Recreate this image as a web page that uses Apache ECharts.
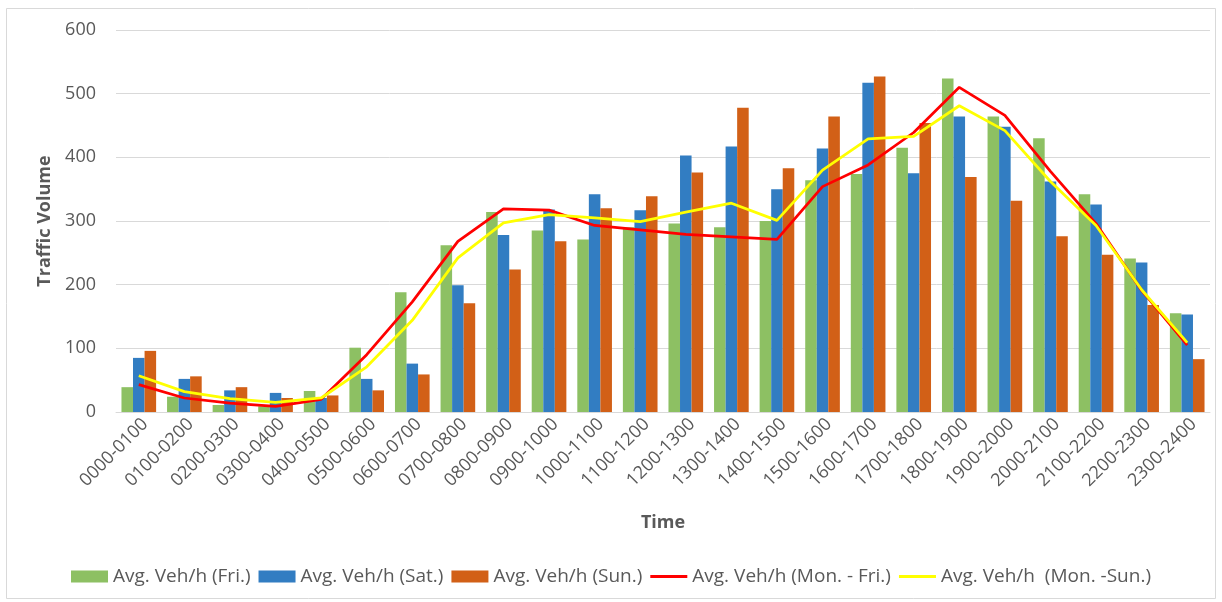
<!DOCTYPE html>
<html>
<head>
<meta charset="utf-8">
<title>Traffic Volume by Hour</title>
<script src="https://cdn.jsdelivr.net/npm/echarts@6/dist/echarts.min.js"></script>
<style>
  html, body { margin: 0; padding: 0; background: #ffffff; }
  #chart { width: 1222px; height: 602px; }
</style>
</head>
<body>
<div id="chart"></div>
<script>
// Hourly time bands
const hours = [
  '0000-0100', '0100-0200', '0200-0300', '0300-0400', '0400-0500', '0500-0600',
  '0600-0700', '0700-0800', '0800-0900', '0900-1000', '1000-1100', '1100-1200',
  '1200-1300', '1300-1400', '1400-1500', '1500-1600', '1600-1700', '1700-1800',
  '1800-1900', '1900-2000', '2000-2100', '2100-2200', '2200-2300', '2300-2400'
];

// Average vehicles per hour, per day type
const friday = [39, 24, 11, 9, 33, 101, 188, 262, 314, 285, 271, 290, 296, 290, 300, 364, 374, 415, 524, 464, 430, 342, 241, 155];
const saturday = [85, 52, 34, 30, 22, 52, 76, 199, 278, 318, 342, 317, 403, 417, 350, 414, 517, 375, 464, 448, 362, 326, 235, 153];
const sunday = [96, 56, 39, 22, 26, 34, 59, 171, 224, 268, 320, 339, 376, 478, 383, 464, 527, 454, 369, 332, 276, 247, 168, 83];
const monToFri = [43, 22, 14, 9, 20, 90, 173, 268, 319, 317, 293, 286, 279, 275, 271, 354, 388, 439, 510, 466, 378, 296, 191, 105];
const monToSun = [57, 32, 21, 15, 22, 71, 144, 242, 297, 310, 305, 299, 314, 328, 301, 380, 429, 433, 481, 442, 362, 293, 192, 109];

// Value axis ticks
const yMin = 0, yMax = 600, yStep = 100;

const seriesNames = [
  'Avg. Veh/h (Fri.)',
  'Avg. Veh/h (Sat.)',
  'Avg. Veh/h (Sun.)',
  'Avg. Veh/h (Mon. - Fri.)',
  'Avg. Veh/h  (Mon. -Sun.)'
];

const FONT = "'Open Sans', 'Noto Sans', sans-serif";
const TEXT = '#595959';
// thin bar used as the legend marker of the line series
const LINE_ICON = 'path://M0,0H40V3H0Z';

const chart = echarts.init(document.getElementById('chart'), null, { renderer: 'canvas' });

const barSeries = (name, data, color) => ({
  name, type: 'bar', data,
  barGap: '0%', barCategoryGap: '24%',
  itemStyle: { color },
  z: 2
});

const lineSeries = (name, data, color) => ({
  name, type: 'line', data,
  symbol: 'none',
  lineStyle: { color, width: 2.75 },
  itemStyle: { color },
  z: 5
});

chart.setOption({
  backgroundColor: '#ffffff',
  animation: false,
  textStyle: { fontFamily: FONT },
  graphic: [{
    type: 'rect',
    shape: { x: 6.5, y: 8.5, width: 1209, height: 590 },
    style: { fill: null, stroke: '#D9D9D9', lineWidth: 1 },
    silent: true
  }],
  grid: { left: 116, right: 12, top: 30, bottom: 190, containLabel: false },
  legend: {
    left: 'center',
    top: 562,
    itemWidth: 37,
    itemHeight: 12,
    itemGap: 8,
    textStyle: { color: TEXT, fontSize: 19, fontFamily: FONT },
    data: [
      { name: seriesNames[0], icon: 'rect' },
      { name: seriesNames[1], icon: 'rect' },
      { name: seriesNames[2], icon: 'rect' },
      { name: seriesNames[3], icon: LINE_ICON },
      { name: seriesNames[4], icon: LINE_ICON }
    ]
  },
  xAxis: {
    type: 'category',
    data: hours,
    boundaryGap: true,
    name: 'Time',
    nameLocation: 'middle',
    nameGap: 102,
    nameTextStyle: { color: TEXT, fontSize: 18, fontWeight: 'bold', fontFamily: FONT },
    axisLine: { show: true, lineStyle: { color: '#D9D9D9', width: 1 } },
    axisTick: { show: false },
    axisLabel: {
      color: TEXT, fontSize: 18, rotate: 45, margin: 3, interval: 0,
      verticalAlign: 'top', fontFamily: FONT
    }
  },
  yAxis: {
    type: 'value',
    min: yMin, max: yMax, interval: yStep,
    name: 'Traffic Volume',
    nameLocation: 'middle',
    nameRotate: 90,
    nameGap: 61,
    nameTextStyle: { color: TEXT, fontSize: 18, fontWeight: 'bold', fontFamily: FONT },
    axisLine: { show: false },
    axisTick: { show: false },
    axisLabel: { color: TEXT, fontSize: 18, margin: 20, fontFamily: FONT },
    splitLine: { show: true, lineStyle: { color: '#D9D9D9', width: 1 } }
  },
  series: [
    barSeries(seriesNames[0], friday, '#8DC063'),
    barSeries(seriesNames[1], saturday, '#327DC2'),
    barSeries(seriesNames[2], sunday, '#D26017'),
    lineSeries(seriesNames[3], monToFri, '#FF0000'),
    lineSeries(seriesNames[4], monToSun, '#FFFF00')
  ]
});
</script>
</body>
</html>
